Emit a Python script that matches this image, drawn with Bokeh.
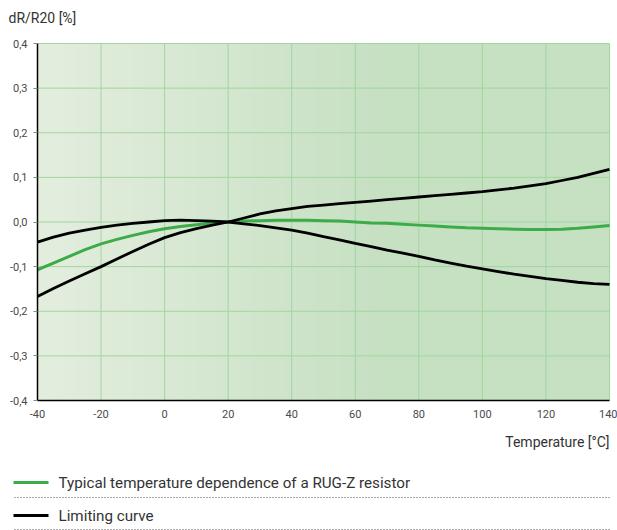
import numpy as np
from bokeh.plotting import figure
from bokeh.models import Range1d, FixedTicker, LinearAxis
from bokeh.embed import file_html
from bokeh.resources import INLINE
from bokeh.core.properties import value

# ---- data ----
temperature = [-40, -35, -30, -25, -20, -15, -10, -5, 0, 5, 10, 15, 20, 25, 30, 35, 40, 45, 50,
               55, 60, 65, 70, 75, 80, 85, 90, 95, 100, 105, 110, 115, 120, 125, 130, 135, 140]
typical = [-0.107, -0.092, -0.077, -0.062, -0.049, -0.039, -0.030, -0.022, -0.015, -0.010,
           -0.006, -0.002, 0.000, 0.002, 0.003, 0.004, 0.004, 0.004, 0.003, 0.002, 0.000,
           -0.002, -0.003, -0.005, -0.007, -0.009, -0.011, -0.013, -0.014, -0.015, -0.016,
           -0.017, -0.017, -0.016, -0.014, -0.011, -0.008]
limit_upper = [-0.167, -0.149, -0.132, -0.116, -0.100, -0.083, -0.066, -0.050, -0.035, -0.024,
               -0.015, -0.007, 0.000, 0.009, 0.018, 0.025, 0.030, 0.035, 0.038, 0.041, 0.044,
               0.047, 0.050, 0.053, 0.056, 0.059, 0.062, 0.065, 0.068, 0.072, 0.076, 0.081,
               0.086, 0.093, 0.100, 0.109, 0.118]
limit_lower = [-0.045, -0.034, -0.025, -0.018, -0.012, -0.007, -0.003, 0.000, 0.003, 0.004,
               0.003, 0.002, 0.000, -0.004, -0.008, -0.013, -0.018, -0.025, -0.033, -0.040,
               -0.048, -0.055, -0.063, -0.070, -0.077, -0.085, -0.092, -0.099, -0.105, -0.111,
               -0.117, -0.122, -0.127, -0.131, -0.135, -0.138, -0.140]

x_ticks = [-40, -20, 0, 20, 40, 60, 80, 100, 120, 140]
x_tick_labels = ["-40", "-20", "0", "20", "40", "60", "80", "100", "120", "140"]
y_ticks = [-0.4, -0.3, -0.2, -0.1, 0.0, 0.1, 0.2, 0.3, 0.4]
y_tick_labels = ["-0,4", "-0,3", "-0,2", "-0,1", "0,0", "0,1", "0,2", "0,3", "0,4"]

y_title = "dR/R20 [%]"
x_title = "Temperature [°C]"
legend_labels = ["Typical temperature dependence of a RUG-Z resistor", "Limiting curve"]

# ---- layout / style ----
W, H = 617, 530
FL, FR, FT, FB = 37, 609, 43, 400          # plot-area edges in pixels
FONT = "Roboto"
TEXT = "#333333"
TICK_TEXT = "#4a4a4a"
GREEN = "#3dab48"
GRID = "#a2d59f"

xmin, xmax = x_ticks[0], x_ticks[-1]
ymin, ymax = y_ticks[0], y_ticks[-1]
kx = (xmax - xmin) / (FR - FL)
ky = (ymax - ymin) / (FB - FT)
x_range = Range1d(xmin - FL * kx, xmax + (W - FR) * kx)
y_range = Range1d(ymin - (H - FB) * ky, ymax + FT * ky)

p = figure(width=W, height=H, x_range=x_range, y_range=y_range,
           output_backend="svg", toolbar_location=None,
           x_axis_location=None, y_axis_location=None, min_border=0,
           min_border_left=0, min_border_right=0, min_border_top=0, min_border_bottom=0)
p.extra_x_ranges = {"px": Range1d(0, W)}
p.extra_y_ranges = {"px": Range1d(H, 0)}
p.outline_line_color = None
p.background_fill_color = "white"
p.border_fill_color = "white"
p.grid.visible = False

# gradient background of the plotting area
nx = 300
c0 = np.array([228, 238, 223], dtype=float)
c1 = np.array([198, 224, 194], dtype=float)
t = np.clip(np.linspace(0, 1, nx) / 0.62, 0, 1)
cols = c0 + (c1 - c0) * t[:, None]
img = np.zeros((2, nx), dtype=np.uint32)
view = img.view(dtype=np.uint8).reshape((2, nx, 4))
for k in range(3):
    view[:, :, k] = cols[:, k].astype(np.uint8)
view[:, :, 3] = 255
p.image_rgba(image=[img], x=xmin, y=ymin, dw=xmax - xmin, dh=ymax - ymin, level="image")

# grid lines (from the tick lists)
p.segment(x0=x_ticks, y0=ymin, x1=x_ticks, y1=ymax, line_color=GRID, line_width=1)
p.segment(x0=xmin, y0=y_ticks, x1=xmax, y1=y_ticks, line_color=GRID, line_width=1)

# axes fixed at the edges of the plotting area
xaxis = LinearAxis(fixed_location=ymin, bounds=(xmin, xmax), ticker=FixedTicker(ticks=x_ticks),
                   major_label_overrides=dict(zip(x_ticks, x_tick_labels)))
yaxis = LinearAxis(fixed_location=xmin, bounds=(ymin, ymax), ticker=FixedTicker(ticks=y_ticks),
                   major_label_overrides=dict(zip(y_ticks, y_tick_labels)))
for ax in (xaxis, yaxis):
    ax.axis_line_color = "black"
    ax.axis_line_width = 1.5
    ax.minor_tick_line_color = None
    ax.major_label_text_font = FONT
    ax.major_label_text_font_size = "11px"
    ax.major_label_text_color = TICK_TEXT
xaxis.major_tick_line_color = None
xaxis.major_tick_out = 0
xaxis.major_tick_in = 0
xaxis.major_label_standoff = 9
yaxis.major_tick_line_color = "#888888"
yaxis.major_tick_out = 4
yaxis.major_tick_in = 0
yaxis.major_label_standoff = 6
p.add_layout(xaxis, "below")
p.add_layout(yaxis, "left")

# curves
p.line(temperature, typical, line_color=GREEN, line_width=3, line_join="round")
p.line(temperature, limit_upper, line_color="black", line_width=2.8, line_join="round")
p.line(temperature, limit_lower, line_color="black", line_width=2.8, line_join="round")

# axis titles (pixel coordinates)
p.text(x=[8], y=[17], text=[y_title], x_range_name="px", y_range_name="px",
       text_font=value(FONT), text_font_size="14px", text_color=TEXT,
       text_baseline="middle", text_align="left")
p.text(x=[FR], y=[441], text=[x_title], x_range_name="px", y_range_name="px",
       text_font=value(FONT), text_font_size="14px", text_color=TEXT,
       text_baseline="middle", text_align="right")

# legend (pixel coordinates)
row_y = [482, 515]
sep_y = [497, 529]
p.segment(x0=13, y0=row_y, x1=48, y1=row_y, line_color=[GREEN, "black"], line_width=3,
          x_range_name="px", y_range_name="px")
p.text(x=58, y=row_y, text=legend_labels, x_range_name="px", y_range_name="px",
       text_font=value(FONT), text_font_size="15.2px", text_color=TEXT,
       text_baseline="middle", text_align="left")
p.segment(x0=14, y0=sep_y, x1=FR, y1=sep_y, line_color="#555555", line_width=1.2,
          line_dash="1 2", x_range_name="px", y_range_name="px")

open("out.html", "w").write(file_html(p, INLINE))
